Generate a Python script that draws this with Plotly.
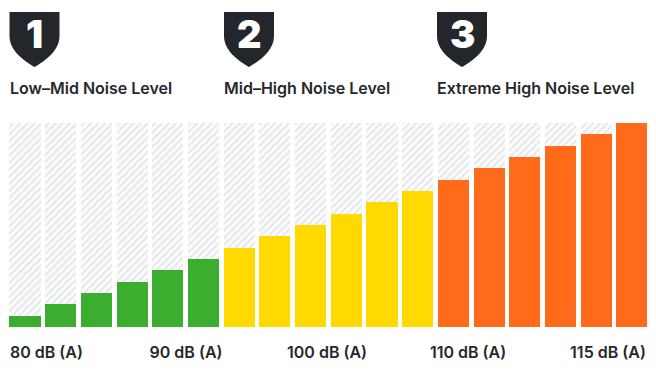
import plotly.graph_objects as go

W, H = 656, 370

# Data
bar_index = list(range(18))
noise_db = [80, 82, 84, 86, 88, 90, 92, 94, 96, 98, 100, 102, 104, 106, 108, 110, 112, 114]
bar_groups = ["low", "low", "low", "low", "low", "low",
              "mid", "mid", "mid", "mid", "mid", "mid",
              "extreme", "extreme", "extreme", "extreme", "extreme", "extreme"]
group_colors = {"low": "#3BAE2F", "mid": "#FFD900", "extreme": "#FF6B1A"}
tick_positions = [0.60, 4.51, 8.46, 12.41, 16.33]
tick_labels = ["80 dB (A)", "90 dB (A)", "100 dB (A)", "110 dB (A)", "115 dB (A)"]
section_numbers = ["1", "2", "3"]
section_titles = ["Low–Mid Noise Level", "Mid–High Noise Level", "Extreme High Noise Level"]
section_left_px = [9.5, 224, 437]

FONT = "Inter, Roboto, Arial, sans-serif"
TEXT = "#26282B"
y_base = 77.88
y_top = 114.0

fig = go.Figure()
# Hatched backdrop columns
fig.add_trace(go.Bar(
    x=bar_index, y=[y_top - y_base] * len(bar_index), base=y_base, width=0.87,
    marker=dict(color="white", line=dict(width=0),
                pattern=dict(shape="/", size=5, solidity=0.4,
                             fgcolor="#CDD1D6", bgcolor="#FCFCFD")),
    hoverinfo="skip", showlegend=False,
))
# Level bars
fig.add_trace(go.Bar(
    x=bar_index, y=[v - y_base for v in noise_db], base=y_base, width=0.87,
    marker=dict(color=[group_colors[g] for g in bar_groups], line=dict(width=0)),
    showlegend=False,
))


def px(x):
    return x / W


def py(y):
    return 1 - y / H


def shield_path(left):
    w = 50.0
    top = 12.0
    mid = left + w / 2
    pts = (
        f"M {px(left)} {py(top)} L {px(left + w)} {py(top)} L {px(left + w)} {py(top + 24)} "
        f"C {px(left + w)} {py(top + 38)} {px(mid + 12)} {py(top + 48)} {px(mid)} {py(top + 55)} "
        f"C {px(mid - 12)} {py(top + 48)} {px(left)} {py(top + 38)} {px(left)} {py(top + 24)} Z"
    )
    return pts


shapes = []
annotations = []
for num, title, left in zip(section_numbers, section_titles, section_left_px):
    shapes.append(dict(type="path", xref="paper", yref="paper", path=shield_path(left),
                       fillcolor="#23262A", line=dict(width=0)))
    annotations.append(dict(xref="paper", yref="paper", x=px(left + 25), y=py(34), text=num,
                            showarrow=False, xanchor="center", yanchor="middle",
                            font=dict(family=FONT, size=38, color="white", weight=900)))
    annotations.append(dict(xref="paper", yref="paper", x=px(left), y=py(88), text=title,
                            showarrow=False, xanchor="left", yanchor="middle", xshift=-2,
                            font=dict(family=FONT, size=16, color=TEXT, weight=600)))

fig.update_layout(
    width=W, height=H, margin=dict(l=0, r=0, t=0, b=0),
    paper_bgcolor="white", plot_bgcolor="white",
    barmode="overlay", bargap=0, showlegend=False,
    shapes=shapes, annotations=annotations,
    font=dict(family=FONT),
    xaxis=dict(range=[-25 / 35.7, (W - 25) / 35.7], domain=[0, 1], showgrid=False, zeroline=False,
               showline=False, tickmode="array", tickvals=tick_positions, ticktext=tick_labels,
               ticks="outside", ticklen=11, tickcolor="rgba(0,0,0,0)", tickangle=0,
               tickfont=dict(family=FONT, size=16, color=TEXT, weight=600)),
    yaxis=dict(range=[y_base, y_top], domain=[(H - 327) / H, (H - 122.5) / H], showgrid=False,
               zeroline=False, showline=False, showticklabels=False, ticks=""),
)

fig.write_html("out.html", config={"displayModeBar": False},
               post_script="document.body.style.margin='0';document.documentElement.style.overflow='hidden';window.dispatchEvent(new Event('resize'));")
